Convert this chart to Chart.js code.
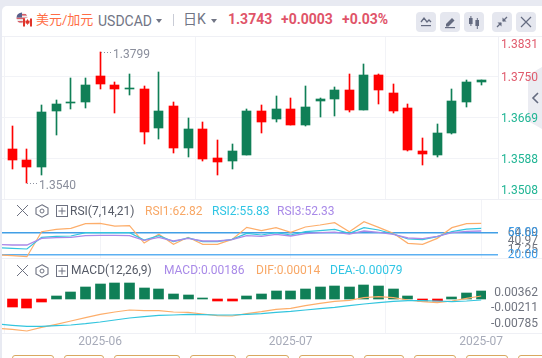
<!DOCTYPE html>
<html><head><meta charset="utf-8">
<style>
html,body{margin:0;padding:0;width:542px;height:358px;overflow:hidden;background:#e8eaf2;font-family:Roboto,"Noto Sans CJK SC",sans-serif}
#card{position:absolute;left:2px;top:6px;width:540px;height:352px;background:#fff;border-top-left-radius:5px}
canvas{position:absolute;left:0}
.t{position:absolute;white-space:nowrap;line-height:16px}
.sep{position:absolute;left:2px;width:540px;height:1px;background:#eff0f5}
.btn{position:absolute;top:12px;width:20px;height:20px;border-radius:4px;background:#e5e7ef}
.btn svg{display:block}
.tab{position:absolute;top:355px;height:8px;border:1px solid #d9a860;border-radius:3px;box-sizing:border-box;background:#fff}
.cap{position:absolute;width:0;height:0;border-left:3px solid transparent;border-right:3px solid transparent;border-top:4px solid #717585}
</style></head><body>
<div id="card"></div>
<svg style="position:absolute;left:528px;top:67px" width="14" height="62"><polygon points="14,0 0,8 0,54 14,62" fill="#ebecf2"/><polyline points="10,26 5,31 10,36" fill="none" stroke="#646b80" stroke-width="1.6"/></svg>
<div style="position:absolute;left:498px;top:37px;width:1px;height:162px;background:#eff0f5"></div>
<canvas id="cMain" width="542" height="162" style="top:37px"></canvas>
<canvas id="cRsi" width="542" height="58" style="top:200px"></canvas>
<canvas id="cMacd" width="542" height="92" style="top:260px"></canvas>
<div class="sep" style="top:36px"></div><div class="sep" style="top:199px"></div><div class="sep" style="top:258px"></div><div class="sep" style="top:333px"></div>

<svg style="position:absolute;left:15px;top:12px" width="19" height="16">
<clipPath id="a"><circle cx="7" cy="6" r="5.5"/></clipPath><g clip-path="url(#a)"><rect x="1" y="0" width="12" height="12" fill="#eee"/><rect x="1" y="2" width="12" height="1.6" fill="#d8606a"/><rect x="1" y="5.5" width="12" height="1.6" fill="#d8606a"/><rect x="1" y="9" width="12" height="1.6" fill="#d8606a"/><rect x="1" y="0" width="6" height="5.5" fill="#55608c"/></g>
<circle cx="12.5" cy="10.5" r="4.8" fill="#fff"/><rect x="8" y="6.5" width="2" height="8" fill="#e0352b"/><rect x="15" y="6.5" width="2" height="8" fill="#e0352b"/><path d="M12.5 7l1.3 2 1 -.4 -.5 3 -1.5 .2v1.2h-.6v-1.2l-1.5-.2-.5-3 1 .4z" fill="#e0352b"/></svg>
<div class="t" style="left:36px;top:12px;font-size:13px;color:#ff6d45">美元/加元</div>
<div class="t" style="left:98px;top:13px;font-size:14px;color:#717585">USDCAD</div>
<div class="cap" style="left:156px;top:19px"></div>
<div style="position:absolute;left:173px;top:14px;width:1px;height:12px;background:#c9ccd6"></div>
<div class="t" style="left:183px;top:11px;font-size:14px;color:#717585">日K</div>
<div class="cap" style="left:211px;top:19px"></div>
<div class="t" style="left:228px;top:11px;font-size:14px;font-weight:700;color:#e05469">1.3743</div>
<div class="t" style="left:281px;top:11px;font-size:14px;font-weight:700;color:#e05469">+0.0003</div>
<div class="t" style="left:342px;top:11px;font-size:14px;font-weight:700;color:#e05469">+0.03%</div>

<div class="btn" style="left:416px"><svg width="20" height="20"><polyline points="5,10 8,6 11,10 13,8 15,10" fill="none" stroke="#646b80" stroke-width="1.3"/><rect x="5" y="13" width="10" height="1.2" fill="#646b80"/></svg></div>
<div class="btn" style="left:440px"><svg width="20" height="20"><path d="M6 12l6-6 2.5 2.5-6 6H6z" fill="#646b80"/><rect x="5" y="15" width="10" height="1.2" fill="#646b80"/></svg></div>
<div class="btn" style="left:464px"><svg width="20" height="20"><rect x="5" y="6" width="3.6" height="6" fill="#646b80"/><rect x="6.4" y="4" width="1" height="10" fill="#646b80"/><rect x="11.4" y="8" width="3.6" height="6" fill="#646b80"/><rect x="12.8" y="6" width="1" height="11" fill="#646b80"/></svg></div>
<div class="btn" style="left:492px"><svg width="20" height="20"><path d="M15 5l-4 4M5 15l4-4" stroke="#646b80" stroke-width="1.3"/><path d="M10.5 5.5v4h4zM9.5 14.5v-4h-4z" fill="#646b80"/></svg></div>
<div class="btn" style="left:516px"><svg width="20" height="20"><path d="M5 5l10 10M15 5L5 15" stroke="#646b80" stroke-width="1.2"/></svg></div>

<svg style="position:absolute;left:15px;top:204px" width="54" height="14"><path d="M2 1l11 11M13 1L2 12" stroke="#6d7180" stroke-width="1"/><polygon points="27,0.8 33,4 33,10 27,13.2 21,10 21,4" fill="none" stroke="#6d7180" stroke-width="1.1"/><circle cx="27" cy="7" r="2" fill="none" stroke="#6d7180"/><rect x="41.5" y="1.5" width="11" height="11" fill="none" stroke="#6d7180"/><path d="M47 3.5v7M43.5 7h7" stroke="#6d7180"/></svg>
<div class="t" style="left:70px;top:203px;font-size:12px;color:#555a66">RSI(7,14,21)</div>
<div class="t" style="left:145px;top:203px;font-size:12px;color:#f8a765">RSI1:62.82</div>
<div class="t" style="left:212px;top:203px;font-size:12px;color:#30c5e4">RSI2:55.83</div>
<div class="t" style="left:277px;top:203px;font-size:12px;color:#a98ae8">RSI3:52.33</div>

<svg style="position:absolute;left:15px;top:264px" width="54" height="14"><path d="M2 1l11 11M13 1L2 12" stroke="#6d7180" stroke-width="1"/><polygon points="27,0.8 33,4 33,10 27,13.2 21,10 21,4" fill="none" stroke="#6d7180" stroke-width="1.1"/><circle cx="27" cy="7" r="2" fill="none" stroke="#6d7180"/><rect x="41.5" y="1.5" width="11" height="11" fill="none" stroke="#6d7180"/><path d="M47 3.5v7M43.5 7h7" stroke="#6d7180"/></svg>
<div class="t" style="left:71px;top:262px;font-size:12px;color:#555a66">MACD(12,26,9)</div>
<div class="t" style="left:164px;top:262px;font-size:12px;color:#a98ae8">MACD:0.00186</div>
<div class="t" style="left:256px;top:262px;font-size:12px;color:#f8a765">DIF:0.00014</div>
<div class="t" style="left:330px;top:262px;font-size:12px;color:#30c5e4">DEA:-0.00079</div>

<div class="tab" style="left:12px;width:42px"></div><div class="tab" style="left:64px;width:40px"></div><div class="tab" style="left:114px;width:66px"></div><div class="tab" style="left:190px;width:46px"></div><div class="tab" style="left:246px;width:43px"></div><div class="tab" style="left:299px;width:55px"></div><div class="tab" style="left:364px;width:40px"></div><div class="tab" style="left:414px;width:42px"></div><div class="tab" style="left:466px;width:42px"></div><div class="tab" style="left:518px;width:40px"></div>

<script src="https://cdn.jsdelivr.net/npm/chart.js@4"></script>
<script>
// ---- data ----
const opens  = [1.36070,1.35853,1.35715,1.36819,1.36977,1.36997,1.37510,1.37332,1.37253,1.37253,1.36484,1.36918,1.36090,1.36464,1.35892,1.35833,1.35951,1.36819,1.36662,1.36859,1.36543,1.37017,1.37056,1.37234,1.36839,1.37530,1.37175,1.36879,1.36030,1.35951,1.36385,1.36997,1.37392];
const closes = [1.35853,1.35715,1.36800,1.36958,1.36997,1.37332,1.37352,1.37253,1.37273,1.36405,1.36819,1.36090,1.36464,1.35873,1.35813,1.36030,1.36819,1.36602,1.36859,1.36543,1.36898,1.37056,1.37234,1.36839,1.37530,1.37234,1.36819,1.36050,1.35971,1.36385,1.37017,1.37392,1.37431];
const highs  = [1.36524,1.36070,1.36938,1.37036,1.37470,1.37470,1.37990,1.37392,1.37549,1.37313,1.37589,1.36997,1.36681,1.36602,1.36247,1.36168,1.36859,1.36938,1.37115,1.37076,1.37313,1.37076,1.37293,1.37549,1.37747,1.37549,1.37352,1.36958,1.36287,1.36563,1.37253,1.37431,1.37431];
const lows   = [1.35675,1.35399,1.35557,1.36346,1.36859,1.36879,1.37253,1.36780,1.37135,1.36168,1.36267,1.35991,1.35912,1.35833,1.35557,1.35675,1.35951,1.36385,1.36602,1.36543,1.36524,1.36701,1.36721,1.36800,1.36839,1.36958,1.36780,1.36030,1.35754,1.35912,1.36366,1.36898,1.37332];
// indicator series start one session before the first visible candle
const rsi1 = [19.6,18.7,17.3,51.4,54.6,56.0,62.3,62.8,59.1,59.6,35.9,47.8,34.1,43.7,34.1,34.1,40.9,57.3,52.8,56.9,50.5,57.8,60.5,63.7,51.4,65.1,57.3,49.1,35.5,34.1,42.3,56.9,62.3,62.82];
const rsi2 = [29.6,28.7,27.8,43.7,45.0,45.5,50.0,50.0,50.0,50.0,40.0,45.9,37.8,42.8,37.8,37.8,40.9,49.1,46.9,50.0,46.9,51.4,52.8,54.6,49.1,56.9,53.7,48.2,41.4,40.5,44.6,51.4,55.0,55.83];
const rsi3 = [34.1,33.2,33.2,42.3,43.2,43.7,46.0,46.4,46.4,46.0,39.6,43.7,38.7,42.3,38.7,38.7,40.5,46.0,45.0,47.8,45.5,48.7,50.0,50.9,48.2,52.3,50.5,47.8,42.8,41.9,45.0,50.0,51.9,52.33];
const rsiLevels = [50,20];
const dif = [-0.00682,-0.00705,-0.00744,-0.00659,-0.00589,-0.00512,-0.00434,-0.00357,-0.00302,-0.00256,-0.00271,-0.00271,-0.00302,-0.0031,-0.00349,-0.00388,-0.00395,-0.00341,-0.00295,-0.0024,-0.00217,-0.00155,-0.00101,-0.00054,-0.00031,0.00031,0.00054,0.00031,-0.00023,-0.00062,-0.00085,-0.00047,0.00016,0.0007];
const dea = [-0.00581,-0.00612,-0.00636,-0.00636,-0.0062,-0.00605,-0.00574,-0.00535,-0.00488,-0.00442,-0.00411,-0.0038,-0.00372,-0.00357,-0.00364,-0.00372,-0.00372,-0.00357,-0.00341,-0.0031,-0.00287,-0.00256,-0.00225,-0.00194,-0.00155,-0.00116,-0.00085,-0.00054,-0.00039,-0.00039,-0.00047,-0.00062,-0.00047,-0.00023];
const macd = [-0.00186,-0.00209,-0.0007,0.0007,0.00163,0.00279,0.00349,0.00372,0.00372,0.00256,0.00233,0.00116,0.00093,0.0001,-0.00047,-0.00047,0.0007,0.00116,0.00186,0.00186,0.00233,0.00279,0.00302,0.00279,0.00326,0.00302,0.00233,0.0007,-0.00047,-0.00047,0.00047,0.0014,0.00186];
const dateTicks = [6,19,32];
const dateLabels = ["2025-06","2025-07","2025-07"];
const priceTickLabels = ["1.3831","1.3750","1.3669","1.3588","1.3508"];
const priceTickValues = [1.38158,1.3750,1.3669,1.3588,1.35277];
const rsiTickLabels = ["64.69","40.97","17.25","50.00","20.00"];
const rsiTickValues = [50,39,26.4,50,20];
const macdTickLabels = ["0.00362","-0.00211","-0.00785"];
const macdTickValues = [0.00147,-0.00216,-0.00588];
// ---- styles ----
const UP="#107f57", DOWN="#ff0000", ORANGE="#fdae6b", CYAN="#33c5de", PURPLE="#ab8ae8", LEVEL="#419fe6", GRID="#f2f3f7";
const FONT={family:"Roboto, sans-serif",size:12};
const XMIN=-0.7, XMAX=33.145, XMAX_MACD=32.327;
Chart.defaults.font=FONT;

const snap={id:'snap',beforeDatasetsDraw(c){c.getSortedVisibleDatasetMetas().forEach(m=>{if(m.type!=='bar')return;m.data.forEach(el=>{
  el.x=Math.floor(el.x)+0.5;let y=Math.round(el.y),b=Math.round(el.base);if(y===b)y=b-1;el.y=y;el.base=b;});});}};
const extremes={id:'extremes',afterDatasetsDraw(c){const ctx=c.ctx,xs=c.scales.x,ys=c.scales.y;
  const mark=(arr,val,dy)=>{const i=arr.indexOf(val),x=Math.floor(xs.getPixelForValue(i))+1,y=Math.round(ys.getPixelForValue(val));
    ctx.save();ctx.strokeStyle="#8f93a1";ctx.setLineDash([1,2]);ctx.beginPath();ctx.moveTo(x,y+.5);ctx.lineTo(x+10,y+.5);ctx.stroke();ctx.setLineDash([]);
    ctx.fillStyle="#8a8e9c";ctx.font="12px Roboto, sans-serif";ctx.textBaseline="middle";ctx.fillText(val.toFixed(4),x+12,y+dy);ctx.restore();};
  mark(highs,Math.max(...highs),3);mark(lows,Math.min(...lows),3);}};

function xAxis(show,height,xmax){return {type:'linear',offset:false,min:XMIN,max:xmax,
  afterBuildTicks(s){s.ticks=dateTicks.map(v=>({value:v}));},
  afterFit(s){s.height=height;s.paddingLeft=0;s.paddingRight=0;},
  border:{display:false},grid:{color:GRID,drawTicks:false,lineWidth:1},
  ticks:{display:show,autoSkip:false,maxRotation:0,minRotation:0,color:"#a7abb9",padding:2,callback(v){return dateLabels[dateTicks.indexOf(v)];}}};}
function yAxis(min,max,vals,labs,colors,offset,gridFn,width){return {type:'linear',position:'right',min,max,
  afterBuildTicks(s){s.ticks=vals.map(v=>({value:v}));},
  afterTickToLabelConversion(s){s.ticks.forEach((t,i)=>{t.label=labs[i];});},
  afterFit(s){s.width=width;s.paddingTop=0;s.paddingBottom=0;},
  border:{display:false},grid:{drawTicks:false,color:gridFn},
  ticks:{autoSkip:false,crossAlign:'far',padding:0,labelOffset:offset,color(ctx){return colors[ctx.index];}}};}
const base={responsive:false,animation:false,events:[],plugins:{legend:{display:false},tooltip:{enabled:false}}};
const at=(arr,start)=>arr.map((y,i)=>({x:i+start,y}));
const line=(arr,color,w)=>({type:'line',data:at(arr,-1),borderColor:color,borderWidth:w,pointRadius:0,tension:0,order:0});

const candleColor=opens.map((o,i)=>closes[i]>=o?UP:DOWN);
new Chart(document.getElementById('cMain'),{type:'bar',plugins:[snap,extremes],data:{datasets:[
  {grouped:false,barThickness:1,data:highs.map((h,i)=>({x:i,y:[lows[i],h]})),backgroundColor:candleColor,order:2},
  {grouped:false,barThickness:9,data:opens.map((o,i)=>({x:i,y:[Math.min(o,closes[i]),Math.max(o,closes[i])]})),backgroundColor:candleColor,order:1}
]},options:{...base,layout:{padding:{left:2,right:4,top:0,bottom:0}},scales:{
  x:xAxis(false,0,XMAX),
  y:yAxis(1.35084,1.38280,priceTickValues,priceTickLabels,["#e05a6c","#e05a6c","#20b594","#20b594","#20b594"],1.5,ctx=>(ctx.index>=1&&ctx.index<=3)?GRID:'transparent',40)
}}});

new Chart(document.getElementById('cRsi'),{type:'line',data:{datasets:[
  {data:[{x:-1,y:rsiLevels[0]},{x:34,y:rsiLevels[0]}],borderColor:LEVEL,borderWidth:1.5,pointRadius:0,order:4},
  {data:[{x:-1,y:rsiLevels[1]},{x:34,y:rsiLevels[1]}],borderColor:"#5cb0f2",borderWidth:1.5,pointRadius:0,order:4},
  line(rsi3,PURPLE,1.3),line(rsi2,CYAN,1.2),line(rsi1,ORANGE,1.2)
]},options:{...base,layout:{padding:{left:2,right:4}},scales:{
  x:xAxis(false,0,XMAX),
  y:yAxis(15.5,94.6,rsiTickValues,rsiTickLabels,["#70747f","#70747f","#70747f","#3a9be8","#3a9be8"],0,()=> 'transparent',40)
}}});

new Chart(document.getElementById('cMacd'),{type:'bar',plugins:[snap],data:{datasets:[
  {grouped:false,barThickness:10,data:at(macd,0),backgroundColor:macd.map(v=>v>=0?UP:DOWN),order:2},
  line(dea,CYAN,1.2),line(dif,ORANGE,1.2)
]},options:{...base,layout:{padding:{left:2,right:4}},scales:{
  x:xAxis(true,19,XMAX_MACD),
  y:yAxis(-0.00791,0.00907,macdTickValues,macdTickLabels,["#70747f","#70747f","#70747f"],0,()=> 'transparent',52)
}}});
</script>
</body></html>
